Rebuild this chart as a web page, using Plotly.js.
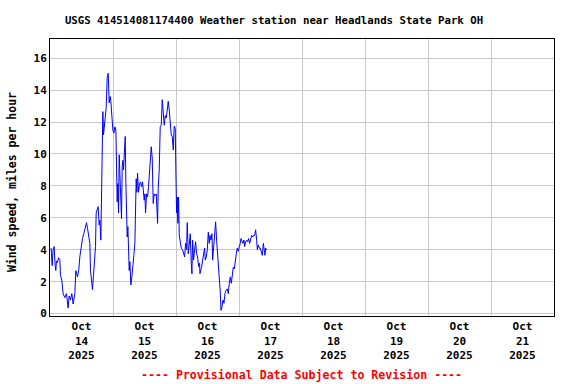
<!DOCTYPE html>
<html>
<head>
<meta charset="utf-8">
<script src="https://cdn.plot.ly/plotly-3.0.1.min.js"></script>
<style>html,body{margin:0;padding:0;background:#fff;}#chart{width:576px;height:384px;}</style>
</head>
<body>
<div id="chart"></div>
<script>
// Hours since 2025-10-14 00:00 (local station time)
const hours = [0.43,0.81,1.19,1.58,1.96,2.21,2.47,2.85,3.23,3.74,3.99,4.50,5.01,5.64,6.28,6.91,7.30,7.80,8.31,8.82,9.46,9.84,10.47,10.98,11.36,11.87,12.38,13.02,13.52,13.90,14.29,14.79,15.18,15.43,15.81,16.19,16.57,16.95,17.34,17.59,17.97,18.35,18.73,18.99,19.37,19.62,19.88,20.13,20.39,20.64,21.02,21.40,21.78,22.17,22.55,22.93,23.18,23.56,23.95,24.33,24.71,25.09,25.34,25.60,25.85,26.11,26.36,26.61,26.87,27.25,27.50,27.76,28.01,28.27,28.65,28.90,29.16,29.41,29.67,29.92,30.17,30.43,30.81,31.19,31.57,31.95,32.33,32.59,32.84,33.10,33.35,33.73,34.11,34.50,34.88,35.26,35.64,35.89,36.15,36.40,36.78,37.16,37.54,37.93,38.31,38.56,38.94,39.32,39.70,40.09,40.47,40.72,40.98,41.23,41.61,41.99,42.38,42.76,43.14,43.52,43.90,44.28,44.66,45.04,45.42,45.81,46.19,46.57,46.95,47.33,47.71,47.97,48.22,48.48,48.73,48.98,49.24,49.62,50.00,50.51,50.89,51.27,51.65,52.03,52.29,52.67,53.05,53.43,53.81,54.07,54.32,54.70,55.08,55.47,55.85,56.23,56.61,56.99,57.12,57.75,58.14,58.52,58.90,59.15,59.53,59.92,60.30,60.68,60.93,61.31,61.69,61.95,62.33,62.71,63.09,63.47,63.86,64.24,64.62,64.87,65.13,65.51,65.89,66.27,66.65,67.03,67.54,67.92,68.30,68.69,69.07,69.45,69.83,70.21,70.59,70.97,71.35,71.74,72.12,72.50,72.75,73.13,73.51,73.90,74.15,74.53,74.91,75.29,75.68,76.06,76.44,76.82,77.20,77.58,77.96,78.34,78.73,78.98,79.36,79.74,80.12,80.51,80.89,81.27,81.65,81.90,82.16,82.54];
// Wind speed, miles per hour
const windSpeed = [4.1,3.0,4.0,4.2,3.0,2.7,3.3,3.2,3.5,3.4,2.4,2.1,1.25,1.0,1.25,0.35,1.1,0.85,1.25,0.6,1.25,2.7,2.3,2.75,3.55,4.3,4.7,5.1,5.45,5.7,5.35,4.8,4.4,2.7,1.9,1.5,2.4,3.55,4.2,6.3,6.5,6.7,5.55,5.85,4.6,7.2,11.1,12.65,11.2,11.6,12.0,12.9,14.75,15.05,13.2,13.6,13.3,12.25,11.5,11.3,11.7,11.5,8.7,7.0,8.15,6.3,9.95,8.8,7.95,5.95,9.2,9.6,9.0,10.25,11.1,8.25,5.45,4.8,5.45,3.35,2.7,3.25,1.8,2.3,3.35,3.65,4.4,7.1,8.45,7.6,8.8,7.6,8.15,8.25,7.95,8.25,7.75,7.1,7.5,6.3,7.5,7.3,7.95,9.2,9.85,10.45,9.75,6.9,7.5,7.4,7.5,6.5,5.65,7.85,9.0,11.7,11.8,13.4,12.75,11.8,12.4,12.25,12.75,13.3,12.75,11.7,11.2,11.1,10.25,11.75,11.6,8.8,6.3,7.3,5.65,7.3,4.9,4.5,4.1,4.0,3.75,3.55,4.4,4.0,5.7,3.75,4.3,5.0,3.15,2.5,4.6,3.35,4.0,4.5,3.75,3.55,2.95,3.15,2.5,2.9,3.35,3.65,4.1,3.35,3.55,4.0,5.1,4.4,4.9,4.6,5.0,3.35,4.2,4.6,5.75,4.6,3.75,3.05,2.1,1.35,0.2,0.4,0.85,0.65,1.25,1.45,1.55,1.25,1.9,2.3,1.9,2.7,2.9,2.8,3.45,3.75,4.1,3.9,4.2,4.4,4.7,4.5,4.4,4.6,4.2,4.5,4.6,4.5,4.7,4.4,4.6,4.9,4.8,4.9,4.9,5.25,4.6,4.0,4.3,4.1,4.1,3.9,3.65,4.4,4.0,3.65,4.1,4.0];
const yTicks = [0,2,4,6,8,10,12,14,16];
const titleText = "USGS 414514081174400 Weather station near Headlands State Park OH";
const yTitle = "Wind speed, miles per hour";
const footer = "---- Provisional Data Subject to Revision ----";

const startMs = Date.UTC(2025, 9, 14);
const xs = hours.map(h => startMs + h * 3600000);

const mono = "DejaVu Sans Mono, monospace";
const trace = {
  x: xs, y: windSpeed, type: 'scatter', mode: 'lines',
  line: {color: '#0000ff', width: 1}, hoverinfo: 'skip'
};
const layout = {
  width: 576, height: 384,
  margin: {l: 50, r: 22, t: 39, b: 68},
  paper_bgcolor: '#ffffff', plot_bgcolor: '#ffffff',
  showlegend: false,
  title: {text: titleText, font: {family: mono, size: 10.7, color: '#000', weight: 'bold'},
          x: 274/576, xanchor: 'center', xref: 'container', y: 1 - 20/384, yanchor: 'middle'},
  xaxis: {
    type: 'date', range: [startMs, startMs + 8*86400000],
    tick0: startMs, dtick: 86400000, ticklabelmode: 'period',
    tickformat: '%b<br>%d<br>%Y',
    showgrid: true, gridcolor: '#c8c8c8', gridwidth: 1,
    showline: true, linecolor: '#000', linewidth: 1, mirror: true,
    ticks: '', zeroline: false,
    tickfont: {family: mono, size: 11, color: '#000', weight: 'bold'}
  },
  yaxis: {
    range: [-0.15, 17.2], tickvals: yTicks, ticktext: yTicks.map(String),
    showgrid: true, gridcolor: '#c8c8c8', gridwidth: 1,
    showline: true, linecolor: '#000', linewidth: 1, mirror: true,
    ticks: '', zeroline: false,
    tickfont: {family: mono, size: 11, color: '#000', weight: 'bold'}
  },
  annotations: [
    {text: yTitle, xref: 'paper', yref: 'paper', x: (12-50)/504, y: (316-182)/277,
     xanchor: 'center', yanchor: 'middle', textangle: -90, showarrow: false,
     font: {family: mono, size: 11.5, color: '#000', weight: 'bold'}},
    {text: footer, xref: 'paper', yref: 'paper', x: (301-50)/504, y: (316-375)/277,
     xanchor: 'center', yanchor: 'middle', showarrow: false,
     font: {family: mono, size: 11.6, color: '#ff0000', weight: 'bold'}}
  ]
};
Plotly.newPlot('chart', [trace], layout, {staticPlot: true, displayModeBar: false});
</script>
</body>
</html>
